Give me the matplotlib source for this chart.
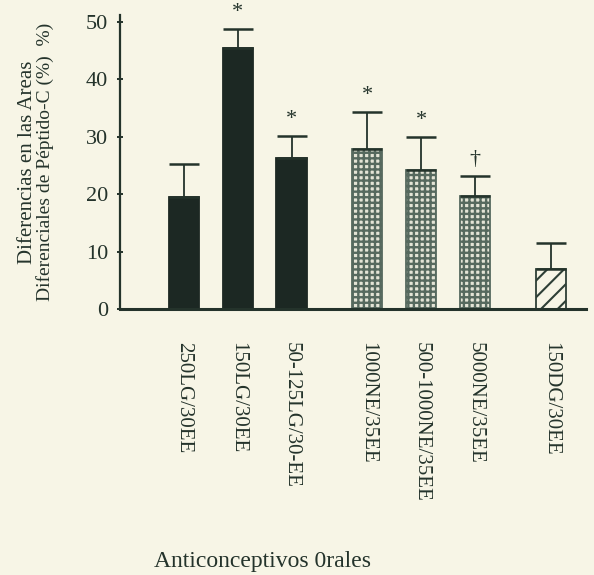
import numpy as np
import matplotlib
matplotlib.use("Agg")
import matplotlib.pyplot as plt

# values
labels = ["250LG/30EE", "150LG/30EE", "50-125LG/30-EE", "1000NE/35EE",
          "500-1000NE/35EE", "5000NE/35EE", "150DG/30EE"]
means = [19.5, 45.5, 26.3, 27.9, 24.2, 19.7, 7.0]
errors = [5.8, 3.3, 3.8, 6.4, 5.8, 3.5, 4.5]
groups = [0, 0, 0, 1, 1, 1, 2]
marks = ["", "*", "*", "*", "*", "\u2020", ""]

paper = "#f7f5e6"
ink = "#24332b"

plt.rcParams["font.family"] = ["Liberation Serif", "DejaVu Serif"]

fig = plt.figure(figsize=(5.94, 5.75), dpi=100, facecolor=paper)
ax = fig.add_axes([0.202, 0.4626, 0.785, 0.511])
ax.set_facecolor(paper)

x = np.arange(len(means)) + 0.41 * np.array(groups)
w = 0.56

styles = [
    (dict(color="#1c2823", edgecolor="#1c2823"), 1.0),
    (dict(color="#e4e4d6", edgecolor="#56695e", hatch="+++"), 1.7),
    (dict(color=paper, edgecolor="#2e3f36", hatch="//"), 1.5),
]

for xi, m, e, g in zip(x, means, errors, groups):
    st, hlw = styles[g]
    with plt.rc_context({"hatch.linewidth": hlw}):
        ax.bar(xi, m, width=w, linewidth=1.3, zorder=2, **st)
    ax.errorbar(xi, m, yerr=[[0], [e]], fmt="none", ecolor=ink,
                elinewidth=1.3, capsize=10.5, capthick=1.8, zorder=3)

for xi, m, e, s in zip(x, means, errors, marks):
    if s:
        ax.annotate(s, (xi, m + e), xytext=(0, 5), textcoords="offset points",
                    ha="center", va="bottom", fontsize=16, color=ink)

ax.set_ylim(0, 51.2)
ax.set_xlim(-1.19, 7.48)
ax.set_yticks([0, 10, 20, 30, 40, 50])
ax.set_xticks(x)
ax.set_xticklabels(labels, rotation=-90, va="top", ha="center")

for sp in ["top", "right"]:
    ax.spines[sp].set_visible(False)
ax.spines["left"].set_color(ink)
ax.spines["bottom"].set_color(ink)
ax.spines["left"].set_linewidth(1.6)
ax.spines["bottom"].set_linewidth(2.2)

ax.tick_params(axis="y", direction="inout", length=5, width=1.4, color=ink,
               labelsize=16, labelcolor=ink, pad=6)
ax.tick_params(axis="x", length=0, labelsize=15, labelcolor=ink, pad=24)

fig.text(28 / 594, 1 - 162 / 575, "Diferencias en las Areas", rotation=90,
         ha="center", va="center", fontsize=15, color=ink)
fig.text(45 / 594, 1 - 162 / 575, "Diferenciales de P\u00e9ptido-C (%)  %)",
         rotation=90, ha="center", va="center", fontsize=14, color=ink)
fig.text(263 / 594, 1 - 562 / 575, "Anticonceptivos 0rales",
         ha="center", va="center", fontsize=17, color=ink)

fig.savefig("out.png", dpi=100, facecolor=paper)
